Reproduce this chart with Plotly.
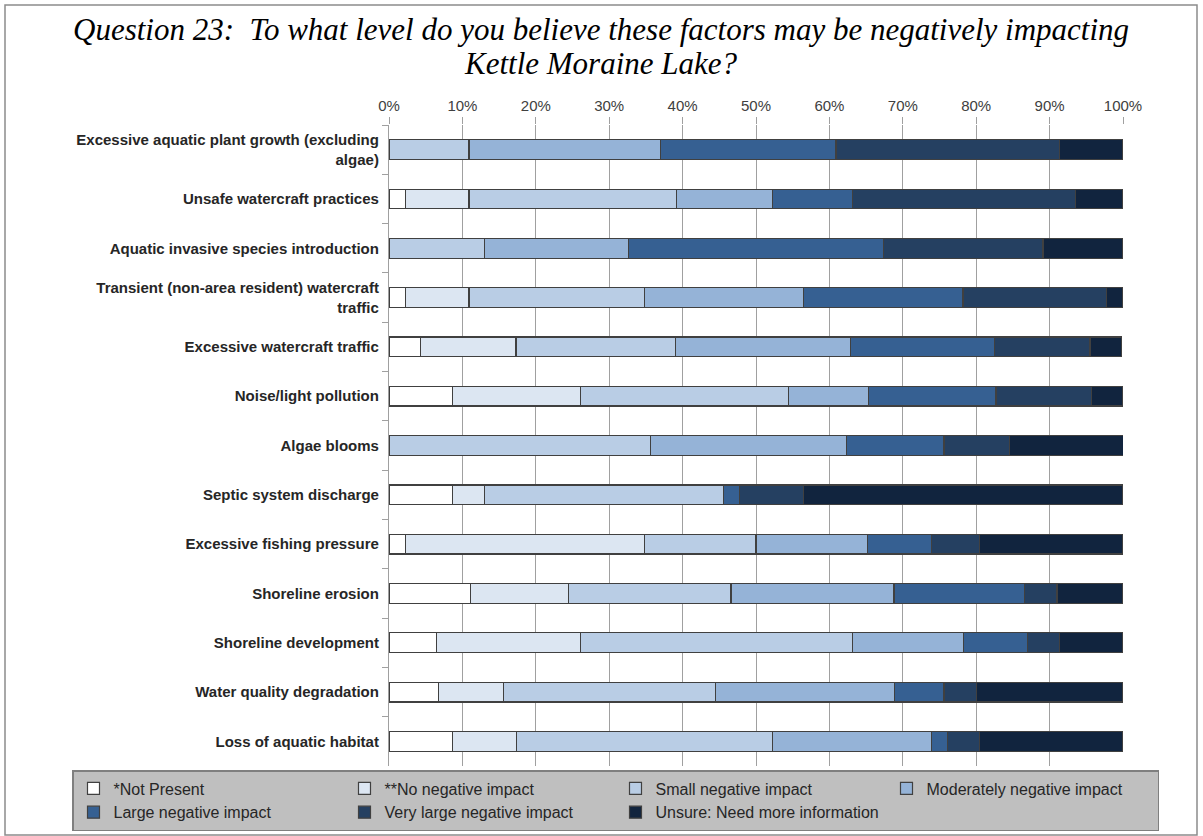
import plotly.graph_objects as go

title_lines = [
    "Question 23:  To what level do you believe these factors may be negatively impacting",
    "Kettle Moraine Lake?",
]

categories = [
    "Excessive aquatic plant growth (excluding<br>algae)",
    "Unsafe watercraft practices",
    "Aquatic invasive species introduction",
    "Transient (non-area resident) watercraft<br>traffic",
    "Excessive watercraft traffic",
    "Noise/light pollution",
    "Algae blooms",
    "Septic system discharge",
    "Excessive fishing pressure",
    "Shoreline erosion",
    "Shoreline development",
    "Water quality degradation",
    "Loss of aquatic habitat",
]

series_names = [
    "*Not Present",
    "**No negative impact",
    "Small negative impact",
    "Moderately negative impact",
    "Large negative impact",
    "Very large negative impact",
    "Unsure: Need more information",
]

not_present = [0, 2.2, 0, 2.2, 4.3, 8.7, 0, 8.7, 2.2, 11.1, 6.5, 6.7, 8.7]
no_negative = [0, 8.7, 0, 8.7, 13.0, 17.4, 0, 4.3, 32.6, 13.3, 19.6, 8.9, 8.7]
small_neg = [10.9, 28.3, 13.0, 23.9, 21.7, 28.3, 35.6, 32.6, 15.2, 22.2, 37.0, 28.9, 34.8]
moderate_neg = [26.1, 13.0, 19.6, 21.7, 23.9, 10.9, 26.7, 0, 15.2, 22.2, 15.2, 24.4, 21.7]
large_neg = [23.9, 10.9, 34.8, 21.7, 19.6, 17.4, 13.3, 2.2, 8.7, 17.8, 8.7, 6.7, 2.2]
very_large_neg = [30.4, 30.4, 21.7, 19.6, 13.0, 13.0, 8.9, 8.7, 6.5, 4.4, 4.3, 4.4, 4.3]
unsure = [8.7, 6.5, 10.9, 2.2, 4.3, 4.3, 15.6, 43.5, 19.6, 8.9, 8.7, 20.0, 19.6]

series_values = [not_present, no_negative, small_neg, moderate_neg,
                 large_neg, very_large_neg, unsure]
colors = ["#ffffff", "#dce6f2", "#b9cde5", "#95b3d7", "#366092", "#254061", "#11243e"]

x_tickvals = [0, 10, 20, 30, 40, 50, 60, 70, 80, 90, 100]
x_ticktext = ["0%", "10%", "20%", "30%", "40%", "50%", "60%", "70%", "80%", "90%", "100%"]

fig = go.Figure()
for name, vals, col in zip(series_names, series_values, colors):
    fig.add_trace(go.Bar(
        y=categories, x=vals, name=name, orientation="h",
        marker=dict(color=col, line=dict(color="#404040", width=1.2)),
        width=0.4,
    ))

W, H = 1203, 836
L, R, T, B = 389, 80, 125, 70
pw = W - L - R
ph = H - T - B

def px_x(px):
    return (px - L) / pw

def px_y(py):
    return (H - B - py) / ph

fig.update_layout(
    width=W, height=H,
    margin=dict(l=L, r=R, t=T, b=B, autoexpand=False),
    barmode="stack",
    bargap=0.6,
    paper_bgcolor="white",
    plot_bgcolor="white",
    xaxis=dict(
        side="top", range=[0, 100],
        tickvals=x_tickvals, ticktext=x_ticktext,
        showgrid=True, gridcolor="#a0a0a0", gridwidth=1.2,
        ticks="outside", ticklen=7, tickcolor="#a0a0a0", tickwidth=1.2,
        showline=False, zeroline=False,
        tickfont=dict(family="Liberation Sans", size=15, color="#404040"),
    ),
    yaxis=dict(
        categoryorder="array", categoryarray=categories,
        autorange="reversed",
        showline=True, linecolor="#a0a0a0", linewidth=1.2,
        ticks="outside", ticklen=6, tickcolor="#a0a0a0", tickson="boundaries",
        ticklabelstandoff=6,
        showgrid=False,
        tickfont=dict(family="Liberation Sans", size=15, color="#262626", weight="bold"),
    ),
    legend=dict(
        orientation="h",
        x=px_x(72), xanchor="left",
        y=px_y(770), yanchor="top",
        bgcolor="#bfbfbf", bordercolor="#7f7f7f", borderwidth=1.5,
        font=dict(family="Liberation Sans", size=16, color="#262626"),
        entrywidth=226, entrywidthmode="pixels",
        traceorder="normal",
    ),
    showlegend=True,
)

title_y = [30, 64]
for line, ty in zip(title_lines, title_y):
    fig.add_annotation(
        text=line, xref="paper", yref="paper",
        x=px_x(601), y=px_y(ty), xanchor="center", yanchor="middle",
        showarrow=False,
        font=dict(family="Liberation Serif", size=31, color="#000000", style="italic"),
    )

fig.add_shape(
    type="rect", xref="paper", yref="paper",
    x0=px_x(5), x1=px_x(1197), y0=px_y(835), y1=px_y(5),
    line=dict(color="#8c8c8c", width=1.5), fillcolor="rgba(0,0,0,0)",
    layer="below",
)

fig.write_html("out.html")
